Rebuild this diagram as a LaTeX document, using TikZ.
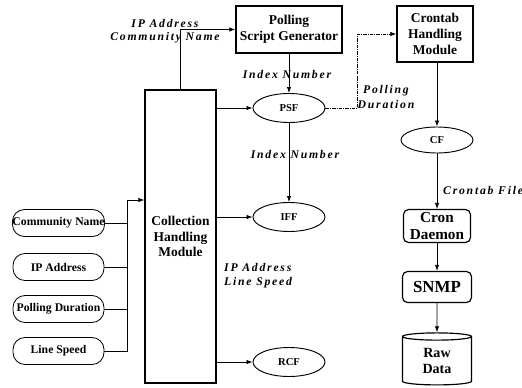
\documentclass[tikz,border=0pt]{standalone}
\usepackage{fontspec}
\setmainfont{Liberation Serif}
\newfontfamily\lblfont[LetterSpace=15]{Liberation Serif}
\usetikzlibrary{arrows.meta, positioning, shapes.geometric}

\tikzset{
  module/.style={draw, line width=1.1pt, font=\bfseries\fontsize{11.5}{13.5}\selectfont, align=center, inner sep=1pt},
  inbox/.style={draw, rounded corners=0.36cm, line width=0.7pt, minimum width=2.73cm, minimum height=0.81cm, font=\bfseries, inner sep=0pt},
  filenode/.style={draw, ellipse, line width=0.8pt, minimum width=2.16cm, minimum height=0.87cm, font=\bfseries\small},
  roundbox/.style={draw, rounded corners=0.15cm, line width=1pt, align=center, inner sep=0pt},
  lbl/.style={font=\lblfont\bfseries\itshape, align=center, inner sep=0pt},
  arr/.style={-{Latex[length=1.8mm,width=1.3mm]}, line width=0.6pt},
}

\begin{document}
\begin{tikzpicture}[x=0.03cm, y=-0.03cm]
  \useasboundingbox (0,0) rectangle (522,388);

  % modules
  \node[module, minimum width=2.13cm, minimum height=8.79cm] (coll) at (180.5,236.5) {Collection\\Handling\\Module};
  \node[module, minimum width=3.18cm, minimum height=1.41cm] (psg) at (289,29.5) {Polling\\Script Generator};
  \node[module, minimum width=2.28cm, minimum height=1.68cm] (crontab) at (435,34) {Crontab\\Handling\\Module};

  % files
  \node[filenode] (psf) at (289,108) {PSF};
  \node[filenode] (iff) at (289,217) {IFF};
  \node[filenode] (rcf) at (289,362) {RCF};
  \node[filenode, minimum height=0.78cm] (cf) at (437,140) {CF};

  % cron side
  \node[roundbox, minimum width=2.01cm, minimum height=0.99cm, font=\bfseries\fontsize{13}{14}\selectfont] (cron) at (437,226) {Cron\\Daemon};
  \node[roundbox, minimum width=2.07cm, minimum height=0.93cm, font=\bfseries\Large] (snmp) at (437,287) {SNMP};
  \node[draw, cylinder, shape border rotate=90, aspect=0.25, line width=1pt, minimum width=2.07cm, minimum height=1.56cm, inner sep=0pt, align=center, font=\bfseries\large] (raw) at (437,361) {Raw\\Data};

  % inputs
  \node[inbox] (comm) at (58.5,223) {Community Name};
  \node[inbox] (ipaddr) at (58.5,267) {IP Address};
  \node[inbox] (pdur) at (58.5,309) {Polling Duration};
  \node[inbox] (lspeed) at (58.5,351) {Line Speed};
  \coordinate (bus) at (127,200);

  \foreach \n in {comm,ipaddr,pdur}
    \draw[line width=0.6pt] (\n.east) -- (\n.east -| bus);
  \draw[line width=0.6pt] (lspeed.east) -| (bus);
  \draw[arr] (bus) -- (bus -| coll.west);

  % connectors
  \draw[arr] (coll.north) |- (psg.west);
  \draw[arr] (coll.east |- psf.west) -- (psf.west);
  \draw[arr] (coll.east |- iff.west) -- (iff.west);
  \draw[arr] (coll.east |- rcf.west) -- (rcf.west);
  \draw[arr] (psg.south -| psf.north) -- (psf.north);
  \draw[arr] (psf) -- (iff);
  \draw[arr, dash pattern=on 3pt off 1pt on 0.6pt off 1pt] (psf.east) -- ++(32,0) |- (crontab.west);
  \draw[arr] (crontab.south -| cf.north) -- (cf.north);
  \draw[arr] (cf) -- (cron);
  \draw[arr] (cron) -- (snmp);
  \draw[arr] (snmp) -- (raw.north);

  % labels
  \node[lbl] (lip) at (165,23) {IP Address};
  \node[lbl] (lcomm) at (165,38) {Community Name};
  \node[lbl] (lidx1) at (287,75) {Index Number};
  \node[lbl] (lidx2) at (295,155) {Index Number};
  \node[lbl] (ldur) at (386,97) {Polling\\Duration};
  \node[lbl, anchor=west, align=left] (lipls) at (224,276) {IP Address\\Line Speed};
  \node[lbl, anchor=west] (lcf) at (443,190) {Crontab File};
\end{tikzpicture}
\end{document}
